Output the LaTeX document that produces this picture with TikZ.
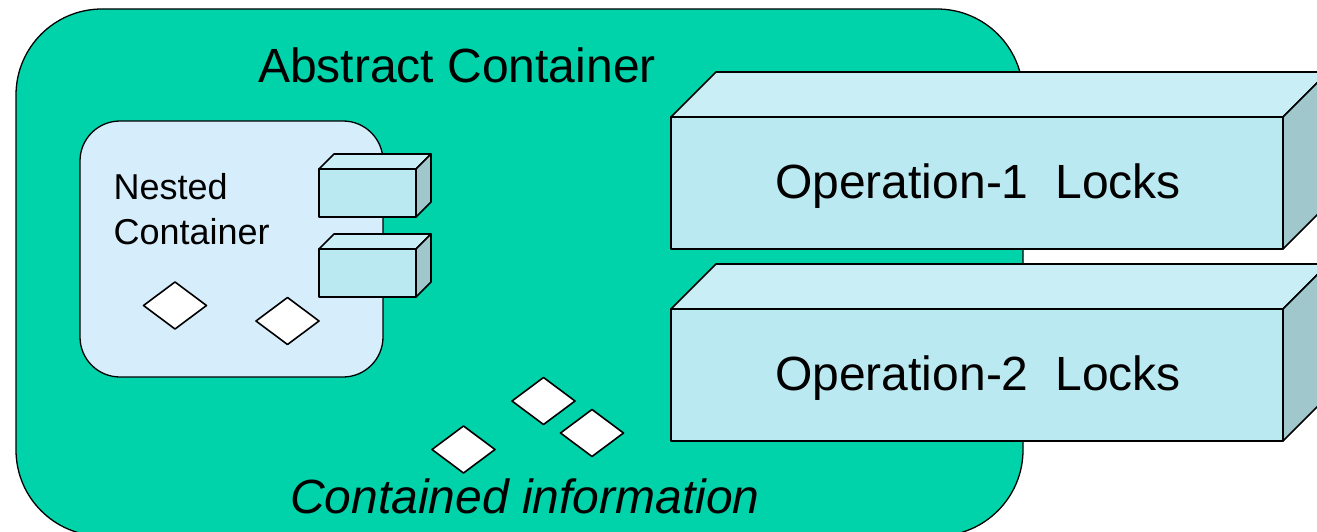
\documentclass[tikz,border=0pt]{standalone}
\usepackage{fontspec}
\setmainfont{Liberation Sans}
\usetikzlibrary{shapes.geometric,calc}
\definecolor{sea}{RGB}{0,210,170}
\definecolor{pale}{RGB}{214,238,252}
\definecolor{boxfront}{RGB}{187,233,241}
\definecolor{boxtop}{RGB}{202,238,245}
\definecolor{boxside}{RGB}{160,200,204}

% front face of a cuboid, with its top and side drawn from the face's anchors
\newcommand{\cuboid}[5]{% name, centre, width, height, depth
  \node[face, minimum width=#3, minimum height=#4] (#1) at #2 {};
  \filldraw[edge, fill=boxtop] (#1.north west) -- ++(#5,-#5) -- ($(#1.north east)+(#5,-#5)$) -- (#1.north east) -- cycle;
  \filldraw[edge, fill=boxside] (#1.north east) -- ++(#5,-#5) -- ($(#1.south east)+(#5,-#5)$) -- (#1.south east) -- cycle;
}

\begin{document}
\begin{tikzpicture}[x=1pt,y=-1pt,
  edge/.style={draw=black, line width=1.6pt, line join=round},
  face/.style={edge, fill=boxfront, inner sep=0pt, outer sep=0pt},
  token/.style={diamond, draw=black, fill=white, line width=1.6pt, line join=round,
    minimum width=63pt, minimum height=47pt, inner sep=0pt, outer sep=0pt},
  container/.style={draw=black, line width=1.3pt, inner sep=0pt, outer sep=0pt},
  big/.style={font=\fontsize{48}{58}\selectfont},
  bigit/.style={font=\fontsize{48}{58}\selectfont\itshape}]
\useasboundingbox (0,0) rectangle (1317,532);
\clip (0,0) rectangle (1317,532);

% outer container
\node[container, fill=sea, rounded corners=86pt,
  minimum width=1007pt, minimum height=527pt] (abstract) at (519.5,272.5) {};
\node[big] (abstractlabel) at (457,65) {Abstract Container};

% nested container
\node[container, fill=pale, rounded corners=40pt,
  minimum width=303pt, minimum height=256pt] (nested) at (231.5,249) {};
\node[anchor=west, align=left, font=\fontsize{36}{45}\selectfont] (nestedlabel) at (110,209)
  {Nested\\Container};

% small lock boxes on the nested container's edge
\cuboid{lockA}{(367.5,193)}{97pt}{48pt}{15}
\cuboid{lockB}{(367.5,273)}{97pt}{48pt}{15}

% pieces of information
\node[token] (infoA) at (175,305.5) {};
\node[token] (infoB) at (287.5,321) {};
\node[token] (infoC) at (543.5,401) {};
\node[token] (infoD) at (592,433) {};
\node[token] (infoE) at (463.5,449.5) {};
\node[bigit] (infolabel) at (525,496) {Contained information};

% operation locks
\cuboid{opone}{(977,183)}{612pt}{132pt}{45}
\node[big] (oponelabel) at ($(opone)+(1,3)$) {Operation-1~ Locks};
\cuboid{optwo}{(977,375)}{612pt}{132pt}{45}
\node[big] (optwolabel) at ($(optwo)+(1,3)$) {Operation-2~ Locks};
\end{tikzpicture}
\end{document}
